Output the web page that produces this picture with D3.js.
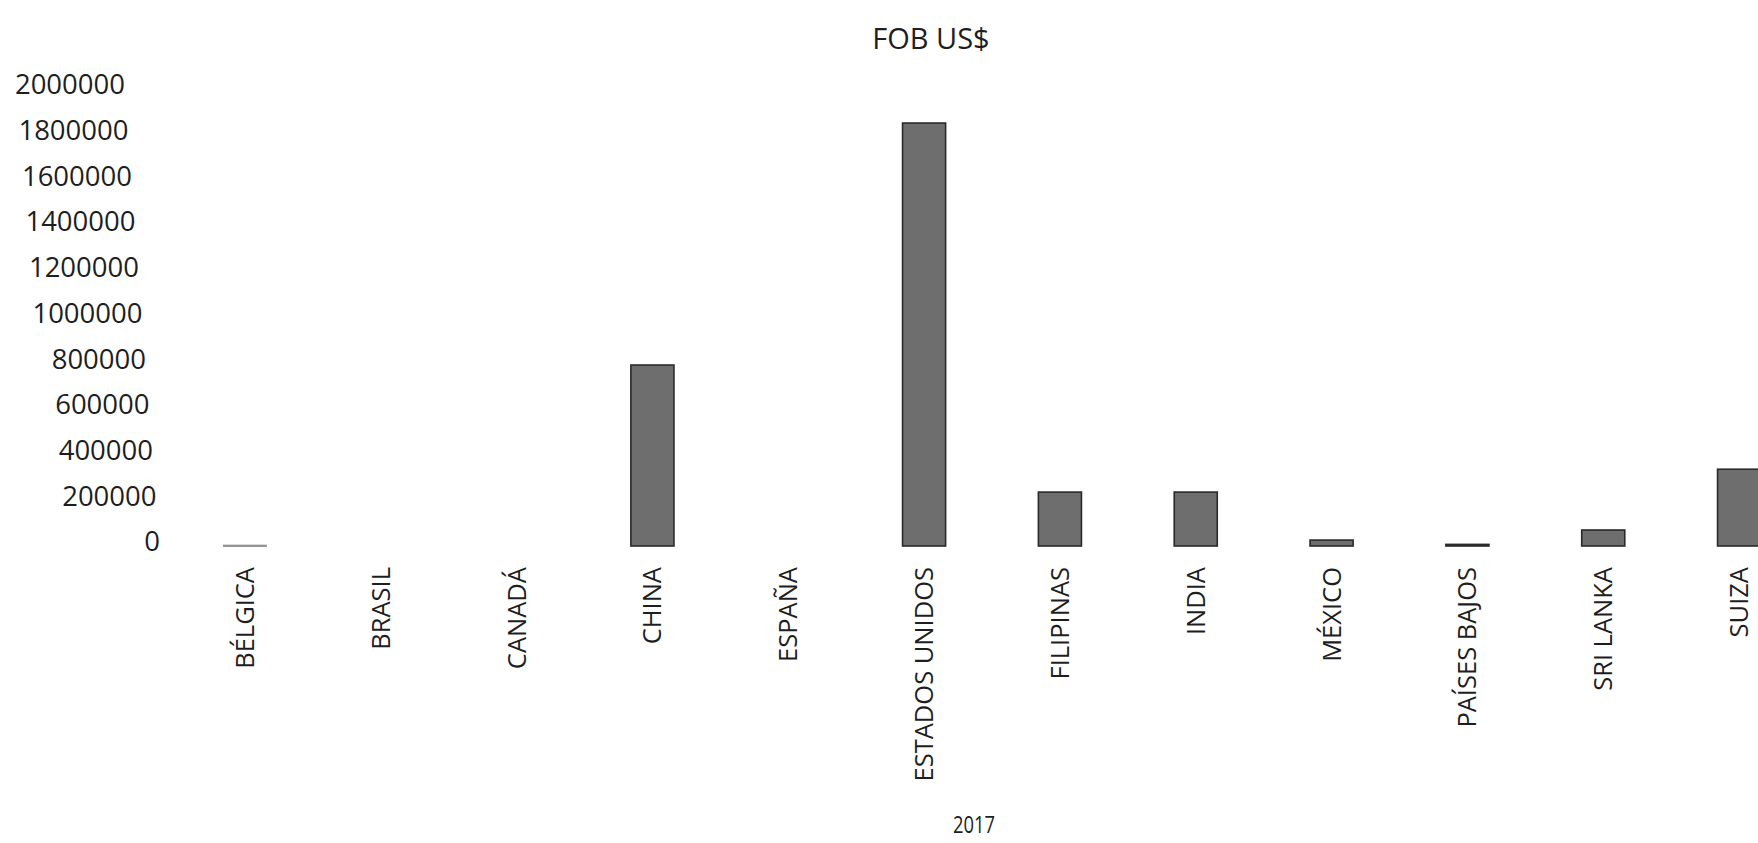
<!DOCTYPE html>
<html><head><meta charset="utf-8">
<script src="https://cdn.jsdelivr.net/npm/d3@7"></script>
<style>
body{margin:0;background:#fff;}
svg{display:block;}
text{font-family:"Open Sans",sans-serif;fill:#1e1e1e;}
</style>
</head><body>
<svg id="chart" width="1758" height="843"></svg>
<script>
const categories = ["BÉLGICA","BRASIL","CANADÁ","CHINA","ESPAÑA","ESTADOS UNIDOS","FILIPINAS","INDIA","MÉXICO","PAÍSES BAJOS","SRI LANKA","SUIZA"];
const values = [4000, 0, 0, 792000, 0, 1851000, 236000, 236000, 26000, 7000, 70000, 336000];
const yTicks = [0,200000,400000,600000,800000,1000000,1200000,1400000,1600000,1800000,2000000];
const chartTitle = "FOB US$";
const axisTitle = "2017";

const svg = d3.select("#chart");
const x = d3.scaleBand().domain(categories).range([177, 1807]).paddingInner(0.683).paddingOuter(0.3415);
const y = d3.scaleLinear().domain([0, 2000000]).range([546, 89]);

// title
svg.append("text").attr("x", 931).attr("y", 37).attr("text-anchor","middle")
  .attr("dominant-baseline","central").style("font-size","29px").text(chartTitle);

// y axis labels (no line), slight scan slant
const slant = 0.0766;
const yAxis = d3.axisLeft(y).tickValues(yTicks).tickFormat(d3.format("d")).tickSize(0).tickPadding(0);
const gy = svg.append("g").attr("transform","translate(160,0)").call(yAxis);
gy.select(".domain").remove();
gy.selectAll(".tick text").style("font-size","27.5px").style("font-family",'"Open Sans",sans-serif')
  .attr("fill","#1e1e1e").attr("dy","0.32em")
  .attr("x", d => -slant*(y(0)-y(d)))
  .attr("y", -4);

// bars
svg.append("g").selectAll("rect").data(categories.map((c,i)=>({c, v: values[i]})).filter(d=>d.v>0))
  .join("rect")
  .attr("x", d => x(d.c))
  .attr("y", d => y(d.v))
  .attr("width", x.bandwidth())
  .attr("height", d => Math.max(1.5, y(0)-y(d.v)))
  .attr("fill", d => d.v < 5000 ? "#9a9a9a" : "#6e6e6e")
  .attr("stroke", d => d.v < 5000 ? "#8a8a8a" : "#2a2a2a")
  .attr("stroke-width", d => d.v < 5000 ? 0.8 : 1.6);

// x axis labels
const xAxis = d3.axisBottom(x).tickSize(0).tickPadding(0);
const gx = svg.append("g").attr("transform", `translate(0,${y(0)})`).call(xAxis);
gx.select(".domain").remove();
gx.selectAll(".tick text").style("font-size","25.5px").style("font-family",'"Open Sans",sans-serif')
  .attr("fill","#1e1e1e")
  .attr("transform","rotate(-90)")
  .attr("text-anchor","end")
  .attr("x", -21)
  .attr("y", 0)
  .attr("dy","0.35em");

// axis title
svg.append("text").attr("x", 974).attr("y", 824).attr("text-anchor","middle")
  .attr("dominant-baseline","central").style("font-size","23px")
  .attr("textLength", 42).attr("lengthAdjust","spacingAndGlyphs").text(axisTitle);
</script>
</body></html>
